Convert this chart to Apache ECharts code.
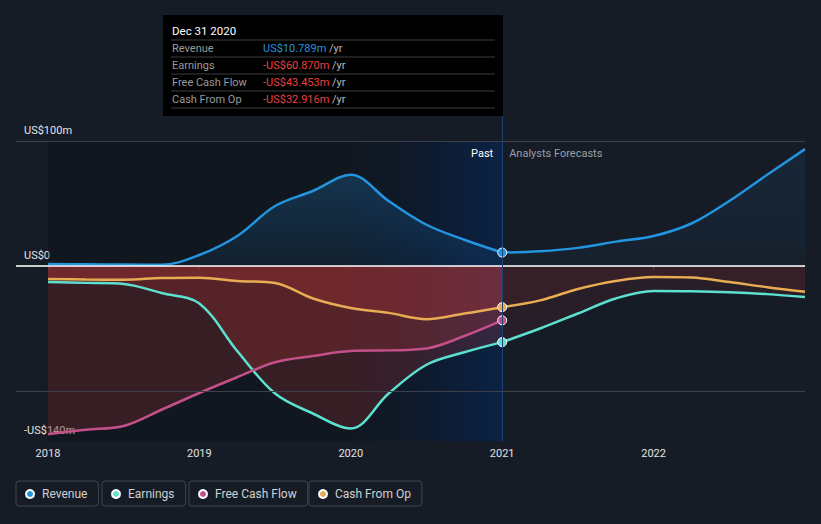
<!DOCTYPE html>
<html>
<head>
<meta charset="utf-8">
<script src="https://cdn.jsdelivr.net/npm/echarts@6/dist/echarts.min.js"></script>
<style>
html,body{margin:0;padding:0;background:#161c26;}
#chart{width:821px;height:524px;}
</style>
</head>
<body>
<div id="chart"></div>
<script>
// ---- data ----
const pastYears = [2018.0, 2018.25, 2018.5, 2018.75, 2019.0, 2019.25, 2019.5, 2019.75, 2020.0, 2020.25, 2020.5, 2020.75, 2021.0];
const revenuePast = [1.6, 1.4, 1.2, 1.0, 8.8, 24, 48, 60, 73, 52, 33, 21, 10.789];
const earningsPast = [-12.8, -13.5, -14.4, -21.6, -30, -68, -102, -118, -130, -102, -79, -69, -60.87];
const fcfPast = [-134.6, -131, -128, -115, -101.6, -89, -77, -72, -68, -67.5, -66, -56, -43.453];
const cfoPast = [-10.4, -10.8, -11, -9.6, -9.3, -12, -13.6, -26, -33.6, -37.5, -42.5, -38, -32.916];

const forecastYears = [2021.0, 2021.25, 2021.5, 2021.75, 2022.0, 2022.25, 2022.5, 2022.75, 2023.0];
const revenueForecast = [10.789, 11.8, 14.5, 19.5, 24, 34, 52, 73, 93.5];
const earningsForecast = [-60.87, -50, -38, -26, -20, -20.2, -21, -22.5, -24.8];
const cfoForecast = [-32.916, -27.5, -18.4, -12, -8.8, -9.2, -12.8, -17, -20.6];

const xTickYears = [2018, 2019, 2020, 2021, 2022];
const yLabelValues = [-140, 0, 100];
const yLabelTexts = {'-140': '-US$140m', '0': 'US$0', '100': 'US$100m'};
const gridValues = [100, -100];

const tipTitle = 'Dec 31 2020';
const tipRows = [
  {label: 'Revenue', value: 'US$10.789m', pos: true},
  {label: 'Earnings', value: '-US$60.870m', pos: false},
  {label: 'Free Cash Flow', value: '-US$43.453m', pos: false},
  {label: 'Cash From Op', value: '-US$32.916m', pos: false}
];

const C = {
  rev: '#2394df', earn: '#5ce0cf', fcf: '#c4508a', cfo: '#e8ac52'
};

function zip(xs, ys) { return xs.map((x, i) => [x, ys[i]]); }
function endSymbol(n) {
  return (v, p) => p.dataIndex === n - 1 ? 'circle' : 'none';
}

const redPast = 'rgba(216,60,60,0.28)';
const redFore = 'rgba(216,60,60,0.13)';

function lineSeries(name, color, xs, ys, area, withDot, z) {
  return {
    name: name, type: 'line', smooth: 0.35, z: z || 3,
    data: zip(xs, ys),
    symbol: withDot ? endSymbol(xs.length) : 'none',
    symbolSize: 9,
    itemStyle: {color: color, borderColor: '#ffffff', borderWidth: 1},
    lineStyle: {color: color, width: 2.5},
    areaStyle: area,
    emphasis: {disabled: true},
    silent: true
  };
}

const revAreaPast = {color: {type: 'linear', x: 0, y: 0, x2: 0, y2: 1, colorStops: [
  {offset: 0, color: 'rgba(33,150,243,0.32)'}, {offset: 1, color: 'rgba(33,150,243,0.10)'}]}};
const revAreaFore = {color: {type: 'linear', x: 0, y: 0, x2: 0, y2: 1, colorStops: [
  {offset: 0, color: 'rgba(33,150,243,0.13)'}, {offset: 1, color: 'rgba(33,150,243,0.05)'}]}};

const series = [
  {
    type: 'line', data: [], z: 1, silent: true,
    markArea: {
      silent: true,
      data: [
        [{xAxis: 2018, yAxis: -140, itemStyle: {color: 'rgba(8,10,14,0.28)'}}, {xAxis: 2020, yAxis: 100}],
        [{xAxis: 2020, yAxis: -140, itemStyle: {color: {type: 'linear', x: 0, y: 0, x2: 1, y2: 0, colorStops: [
          {offset: 0, color: 'rgba(10,18,28,0.5)'}, {offset: 1, color: 'rgba(10,35,72,0.9)'}]}}},
         {xAxis: 2021, yAxis: 100}]
      ]
    },
    markPoint: {
      silent: true, symbol: 'circle', symbolSize: 0,
      data: [
        {coord: [2021, 100], label: {show: true, position: 'left', distance: 9, offset: [0, 12], formatter: 'Past', color: '#ffffff', fontSize: 11, fontFamily: 'Roboto'}},
        {coord: [2021, 100], label: {show: true, position: 'right', distance: 7, offset: [0, 12], formatter: 'Analysts Forecasts', color: '#9a9ea6', fontSize: 11, fontFamily: 'Roboto'}}
      ]
    }
  },
  {
    type: 'line', data: [], z: 2, silent: true,
    markLine: {
      silent: true, symbol: 'none', label: {show: false},
      data: [
        {yAxis: 0, lineStyle: {color: '#ffffff', width: 1.5, type: 'solid'}},
        {xAxis: 2021, lineStyle: {color: '#1d4474', width: 1, type: 'solid'}}
      ]
    }
  },
  lineSeries('Revenue', C.rev, pastYears, revenuePast, revAreaPast, true),
  lineSeries('Revenue', C.rev, forecastYears, revenueForecast, revAreaFore, false),
  lineSeries('Cash From Op', C.cfo, pastYears, cfoPast, {color: redPast}, true),
  lineSeries('Cash From Op', C.cfo, forecastYears, cfoForecast, {color: redFore}, false),
  lineSeries('Earnings', C.earn, pastYears, earningsPast, {color: redPast}, true),
  lineSeries('Earnings', C.earn, forecastYears, earningsForecast, {color: redFore}, false),
  lineSeries('Free Cash Flow', C.fcf, pastYears, fcfPast, {color: redPast}, true),
  {
    type: 'line', data: [], z: 5, silent: true,
    markLine: {
      silent: true, symbol: 'none', label: {show: false},
      data: gridValues.map(v => ({yAxis: v, lineStyle: {color: '#3a3f49', width: 1, type: 'solid'}}))
    }
  }
];

const legendDefs = [
  {name: 'Revenue', left: 16},
  {name: 'Earnings', left: 102},
  {name: 'Free Cash Flow', left: 189},
  {name: 'Cash From Op', left: 309}
];

const tipX = 163, tipY = 15, rowH = 17;
const tipGraphics = [
  {type: 'rect', shape: {x: tipX, y: tipY, width: 340, height: 101}, style: {fill: '#000000'}, silent: true},
  {type: 'text', x: tipX + 9, y: tipY + 16, style: {text: tipTitle, fill: '#ffffff', font: '11.5px Roboto', textVerticalAlign: 'middle'}, silent: true}
];
for (let i = 0; i <= tipRows.length; i++) {
  tipGraphics.push({type: 'line', shape: {x1: tipX + 8, y1: tipY + 25 + i * rowH, x2: tipX + 332, y2: tipY + 25 + i * rowH},
    style: {stroke: '#3c3c3c', lineWidth: 1}, silent: true});
}
tipRows.forEach((r, i) => {
  const cy = tipY + 33.5 + i * rowH;
  tipGraphics.push({type: 'text', x: tipX + 9, y: cy, style: {text: r.label, fill: '#9a9a9a', font: '11px Roboto', textVerticalAlign: 'middle'}, silent: true});
  tipGraphics.push({type: 'text', x: tipX + 100, y: cy, style: {
    text: '{v|' + r.value + '} {u|/yr}', textVerticalAlign: 'middle', font: '11px Roboto',
    rich: {v: {fill: r.pos ? '#2394df' : '#ea4040', fontSize: 11, fontFamily: 'Roboto'}, u: {fill: '#b8b8b8', fontSize: 11, fontFamily: 'Roboto'}}
  }, silent: true});
});

const chart = echarts.init(document.getElementById('chart'), null, {renderer: 'svg'});
chart.setOption({
  backgroundColor: '#161c26',
  animation: false,
  textStyle: {fontFamily: 'Roboto'},
  grid: {left: 16, right: 16, top: 116, bottom: 83, containLabel: false},
  xAxis: {
    type: 'value', min: 2017.789, max: 2023,
    axisLine: {show: true, lineStyle: {color: '#3d424c', width: 1}},
    axisTick: {show: true, customValues: xTickYears, length: 4, lineStyle: {color: '#3d424c'}},
    axisLabel: {customValues: xTickYears, formatter: v => String(v), color: '#e2e2e2', fontSize: 11, margin: 7},
    splitLine: {show: false}
  },
  yAxis: {
    type: 'value', min: -140, max: 120,
    axisLine: {show: false}, axisTick: {show: false}, splitLine: {show: false},
    axisLabel: {
      customValues: yLabelValues, inside: true, margin: 8,
      formatter: v => yLabelTexts[String(v)] || '',
      color: '#e2e2e2', fontSize: 11, verticalAlign: 'bottom', padding: [0, 0, 5, 0]
    }
  },
  legend: legendDefs.map(d => ({
    data: [d.name], left: d.left, top: 481, orient: 'horizontal',
    icon: 'circle', itemWidth: 14, itemHeight: 8,
    padding: [7, 11, 6, 9], borderColor: '#3e434d', borderWidth: 1, borderRadius: 3,
    textStyle: {color: '#d0d0d0', fontSize: 12, fontFamily: 'Roboto'},
    selectedMode: true
  })),
  series: series,
  graphic: tipGraphics
});
</script>
</body>
</html>
